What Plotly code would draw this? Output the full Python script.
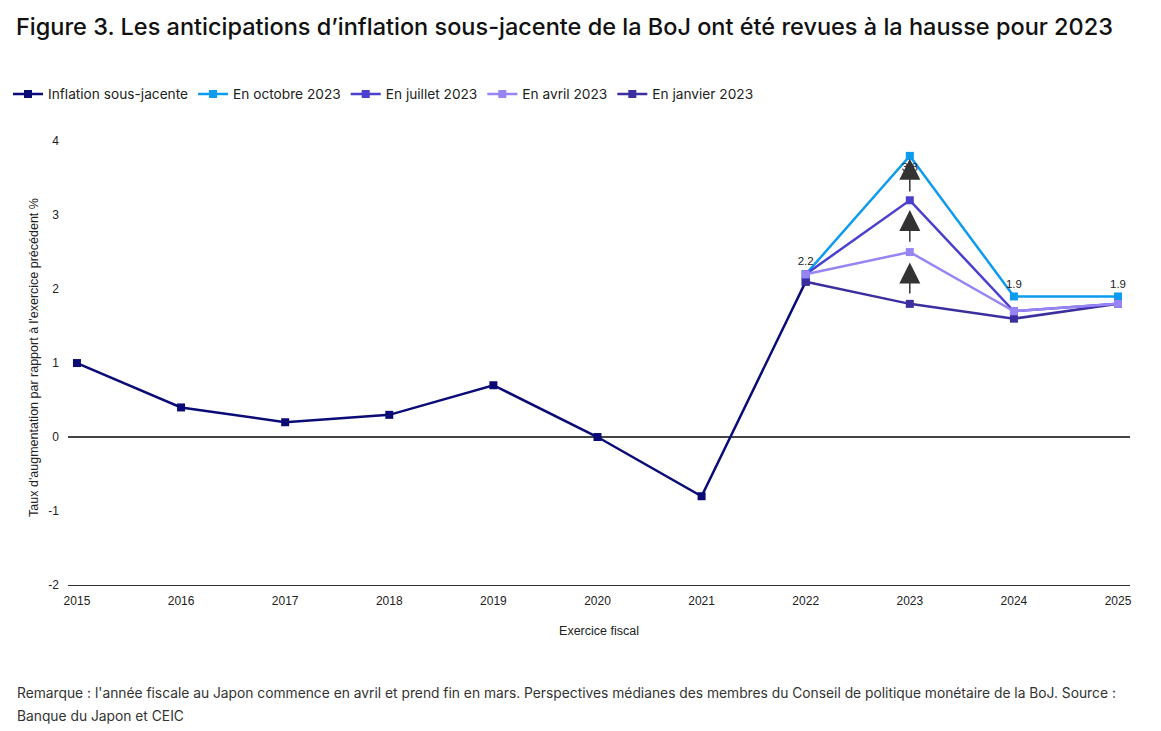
import plotly.graph_objects as go

years_hist = [2015, 2016, 2017, 2018, 2019, 2020, 2021, 2022]
core_inflation = [1.0, 0.4, 0.2, 0.3, 0.7, 0.0, -0.8, 2.1]

years_fc = [2022, 2023, 2024, 2025]
oct_2023 = [2.2, 3.8, 1.9, 1.9]
jul_2023 = [2.2, 3.2, 1.7, 1.8]
apr_2023 = [2.2, 2.5, 1.7, 1.8]
jan_2023 = [2.1, 1.8, 1.6, 1.8]
oct_labels = ["2.2", "3.8", "1.9", "1.9"]
oct_label_pos = ["top center", "bottom center", "top center", "top center"]

# revision arrows at 2023: (tail, tip)
arrow_year = 2023
arrows = [(1.92, 2.36), (2.62, 3.07), (3.30, 3.76)]

x_ticks = list(range(2015, 2026))
y_ticks = [-2, -1, 0, 1, 2, 3, 4]
y_tick_labels = ["-2", "-1", "0", "1", "2", "3", "4"]

C_CORE = "#0b0b78"
C_OCT = "#0d9bf0"
C_JUL = "#4b3fcf"
C_APR = "#9885f5"
C_JAN = "#3b2f9f"

FIG_W, FIG_H = 1161, 731
# plot area in figure pixels (page is offset by the 8px body margin)
L, R, T, B = 60, 1122, 122, 577
W, H = R - L, B - T

def px_x(px):
    return (px - L) / W

def px_y(py):
    return (B - py) / H

fig = go.Figure()

def add(name, x, y, color, rank, **kw):
    fig.add_trace(go.Scatter(
        x=x, y=y, name=name, mode=kw.pop("mode", "lines+markers"),
        line=dict(color=color, width=2.5),
        marker=dict(symbol="square", size=8, color=color),
        legendrank=rank, **kw))

add("Inflation sous-jacente", years_hist, core_inflation, C_CORE, 1)
add("En janvier 2023", years_fc, jan_2023, C_JAN, 5)
add("En octobre 2023", years_fc, oct_2023, C_OCT, 2, mode="lines+markers+text",
    text=oct_labels, textposition=oct_label_pos,
    textfont=dict(size=11.5, color="#222", family="Liberation Sans"))
add("En juillet 2023", years_fc, jul_2023, C_JUL, 3)
add("En avril 2023", years_fc, apr_2023, C_APR, 4)

for tail, tip in arrows:
    fig.add_annotation(x=arrow_year, y=tip, ax=arrow_year, ay=tail,
                       xref="x", yref="y", axref="x", ayref="y",
                       text="", showarrow=True, arrowhead=2, arrowsize=2.8,
                       arrowwidth=1.5, arrowcolor="#333")

note_lines = [
    "Remarque : l'année fiscale au Japon commence en avril et prend fin en mars. Perspectives médianes des membres du Conseil de politique monétaire de la BoJ. Source :",
    "Banque du Japon et CEIC",
]
for i, line in enumerate(note_lines):
    fig.add_annotation(xref="paper", yref="paper", x=px_x(7), y=px_y(685 + 23 * i),
                       xanchor="left", yanchor="middle", showarrow=False, align="left",
                       text=line, font=dict(size=13.8, color="#333", family="Inter"))

fig.update_layout(
    width=FIG_W, height=FIG_H,
    margin=dict(l=L, r=FIG_W - R, t=T, b=FIG_H - B),
    paper_bgcolor="white", plot_bgcolor="white",
    font=dict(family="Liberation Sans", size=12, color="#222"),
    title=dict(text="Figure 3. Les anticipations d’inflation sous-jacente de la BoJ ont été revues à la hausse pour 2023",
               x=8 / FIG_W, y=1 - 19 / FIG_H, xanchor="left", yanchor="middle",
               font=dict(size=23.5, color="#111", family="Inter", weight=500)),
    showlegend=True,
    legend=dict(orientation="h", xref="container", yref="container",
                x=0, y=1 - 86 / FIG_H, xanchor="left", yanchor="middle",
                font=dict(size=13.7, color="#222", family="Inter"), itemwidth=30),
    xaxis=dict(range=[2014.914, 2025.115], tickvals=x_ticks,
               ticktext=[str(v) for v in x_ticks], showgrid=False,
               showline=True, linecolor="#333", linewidth=1, ticks="",
               zeroline=False, ticklabelstandoff=5, tickfont=dict(size=12),
               title=dict(text="Exercice fiscal", font=dict(size=12.5), standoff=18)),
    yaxis=dict(range=[-2, 4.15], tickvals=y_ticks, ticktext=y_tick_labels,
               showgrid=False, zeroline=True, zerolinecolor="#444", zerolinewidth=1.5,
               showline=False, ticks="", ticklabelstandoff=8, tickfont=dict(size=12),
               title=dict(text="Taux d'augmentation par rapport à l'exercice précédent %",
                          font=dict(size=12.5), standoff=6)),
)

fig.write_html("out.html")
